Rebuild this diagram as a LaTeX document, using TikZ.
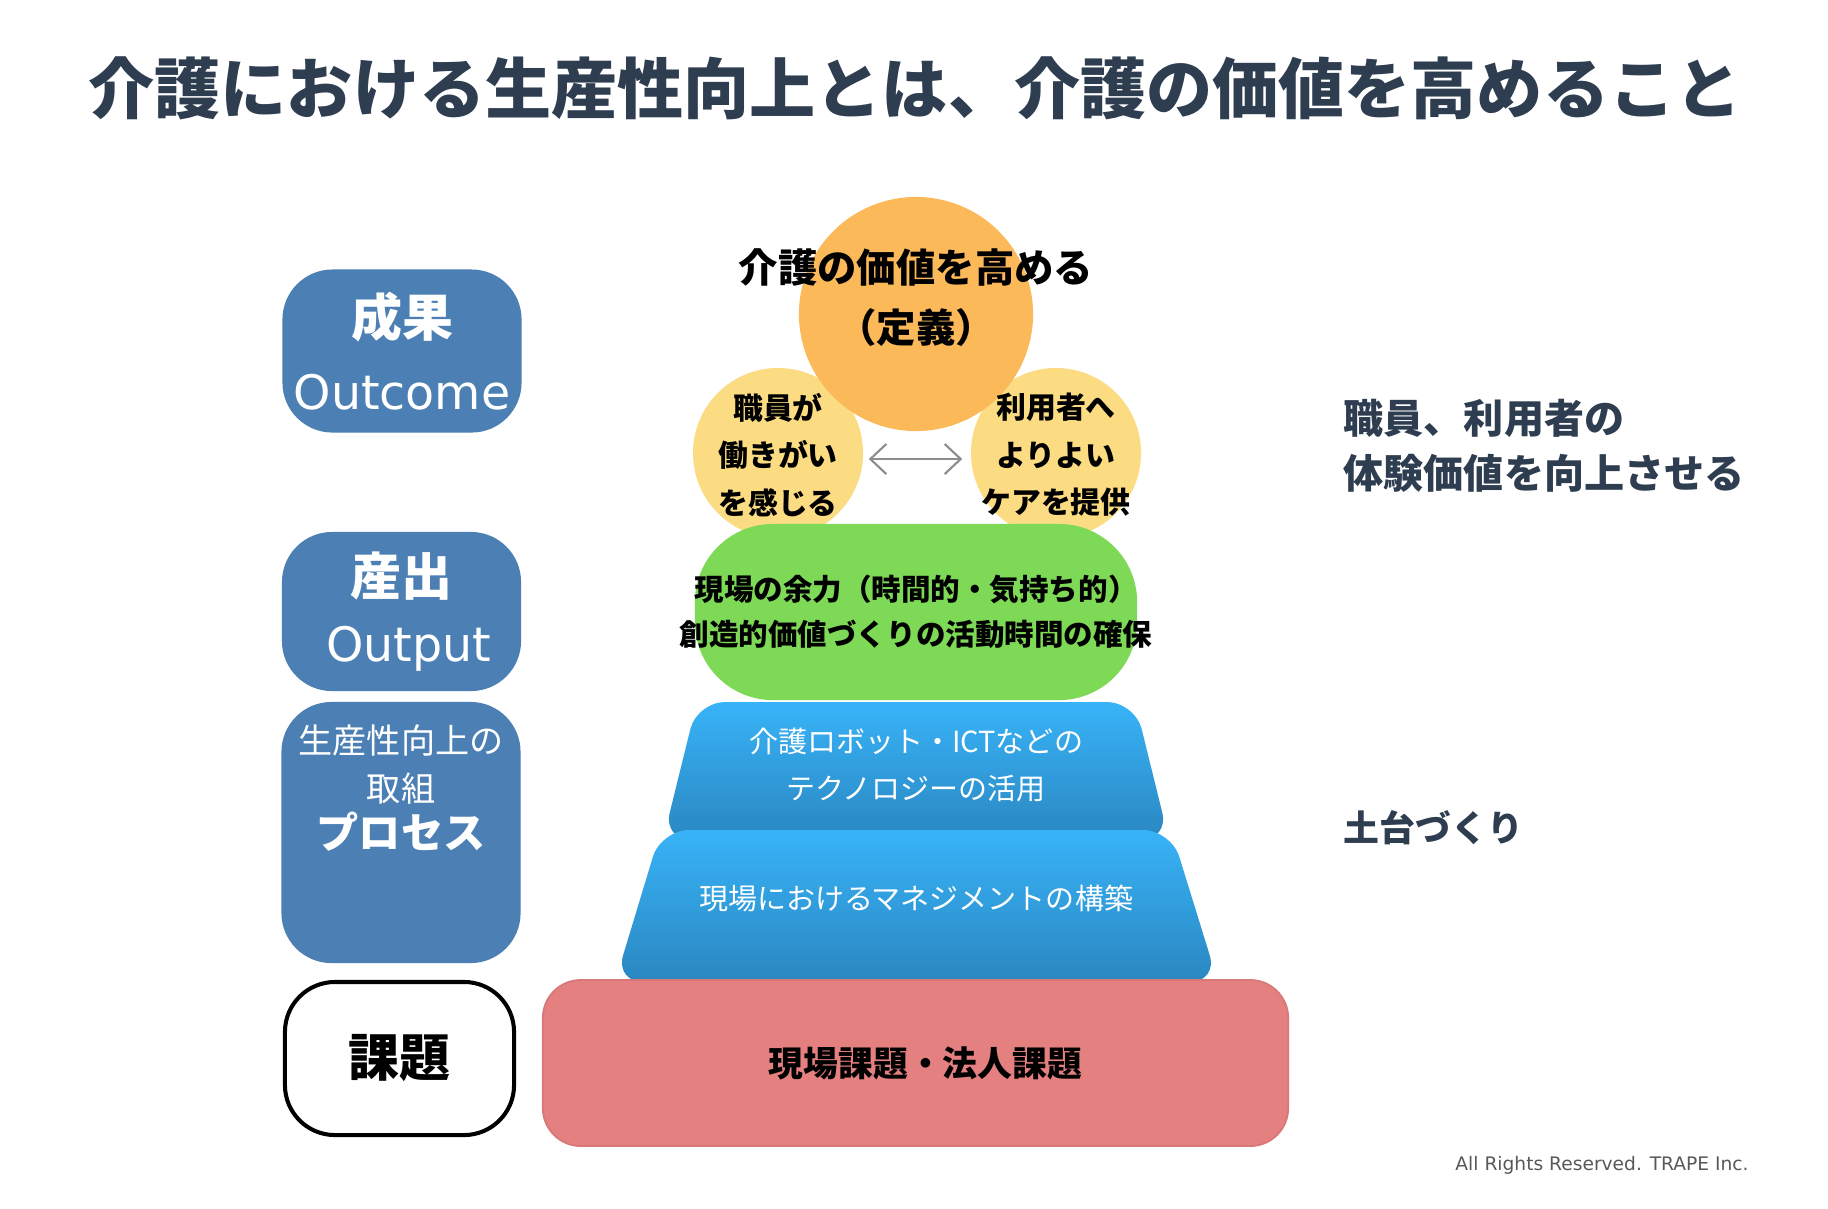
\documentclass[tikz,border=0pt]{standalone}
\usepackage{fontspec}
\setmainfont{Noto Sans CJK JP}
\newfontfamily\latinsans{DejaVu Sans}
\usepackage{tikz}
\usetikzlibrary{arrows.meta,positioning,shapes.geometric}
\definecolor{trapenavy}{HTML}{2E3D50}
\definecolor{trapesteel}{HTML}{4C7FB3}
\definecolor{trapeorange}{HTML}{FBB95A}
\definecolor{trapeyellow}{HTML}{FCDC82}
\definecolor{trapegreen}{HTML}{7DD956}
\definecolor{trapesky}{HTML}{38B3F8}
\definecolor{trapedeep}{HTML}{2A87C0}
\definecolor{trapered}{HTML}{E48080}
\definecolor{trapeedge}{HTML}{D87878}

\begin{document}
\begin{tikzpicture}[x=0.01cm,y=-0.01cm,
  lbox/.style={rectangle,rounded corners=0.5cm,fill=trapesteel,text=white,align=center,
               inner sep=0pt,minimum width=2.39cm},
  blob/.style={circle,inner sep=0pt},
  ctxt/.style={align=center,inner sep=0pt,font=\bfseries\fontsize{8.5}{13.5}\selectfont},
  wtxt/.style={align=center,inner sep=0pt,text=white,font=\fontsize{8.25}{13.1}\selectfont},
  note/.style={anchor=west,align=left,inner sep=0pt,text=trapenavy,
               font=\bfseries\fontsize{11.4}{15.6}\selectfont},
  trap/.style={top color=trapesky,bottom color=trapedeep,rounded corners=0.28cm},
  dbl/.style={{Straight Barb[length=1.6mm,width=3mm]}-{Straight Barb[length=1.6mm,width=3mm]},
              draw=black!45,line width=0.6pt}
]
\fill[white] (0,0) rectangle (1828,1208);

% Titel
\node[inner sep=0pt,text=trapenavy,font=\bfseries\fontsize{18.8}{22}\selectfont] (ttl) at (915,88)
  {介護における生産性向上とは、介護の価値を高めること};

% linke Spalte
\node[lbox,minimum height=1.63cm,font=\fontsize{14}{20.8}\selectfont] (outc) at (402,351)
  {{\bfseries\fontsize{14.5}{20.8}\selectfont 成果}\\{\latinsans\fontsize{13.5}{20.8}\selectfont Outcome}};
\node[lbox,minimum height=1.59cm,font=\fontsize{14}{19}\selectfont] (outp) at (401.5,611.5)
  {{\bfseries\fontsize{14.5}{19}\selectfont 産出}\\{\latinsans\fontsize{13.5}{19}\selectfont\hspace*{0.14cm}Output}};
\node[lbox,minimum height=2.61cm] (proc) at (401,832.5) {};
\node[inner sep=0pt,align=center,text=white,font=\fontsize{9.7}{13.9}\selectfont] (proct) at (401,764.5)
  {生産性向上の\\取組};
\node[inner sep=0pt,text=white,font=\bfseries\fontsize{12}{14}\selectfont] (procb) at (401,832) {プロセス};
\node[rectangle,rounded corners=0.5cm,draw=black,line width=1.15pt,fill=white,inner sep=0pt,
      minimum width=2.29cm,minimum height=1.53cm,font=\bfseries\fontsize{14.5}{16}\selectfont] (task)
  at (399.5,1058.5) {課題};

% Mitte
\node[blob,fill=trapeyellow,minimum size=1.70cm] (yl) at (778,453) {};
\node[blob,fill=trapeyellow,minimum size=1.70cm] (yr) at (1056,453) {};
\node[blob,fill=trapeorange,minimum size=2.34cm] (val) at (916,314) {};
\node[rectangle,rounded corners=0.78cm,fill=trapegreen,minimum width=4.42cm,minimum height=1.76cm] (marg)
  at (916,612) {};
\shade[trap] (663,840) -- (697,702) -- (1135,702) -- (1169,840) -- cycle;
\shade[trap] (615,982) -- (661,830) -- (1171,830) -- (1218,982) -- cycle;
\node[rectangle,rounded corners=0.38cm,fill=trapered,draw=trapeedge,line width=0.5pt,
      minimum width=7.45cm,minimum height=1.66cm,font=\bfseries\fontsize{9.9}{12}\selectfont] (issue)
  at (915.5,1063) {\hspace*{0.2cm}現場課題・法人課題};

\node[ctxt,font=\bfseries\fontsize{11.2}{17.1}\selectfont] (valt) at (916,298) {介護の価値を高める\\（定義）};
\node[ctxt] (ylt) at (778,455) {職員が\\働きがい\\を感じる};
\node[ctxt] (yrt) at (1056,455) {利用者へ\\よりよい\\ケアを提供};
\draw[dbl,shorten <=0.05cm,shorten >=0.08cm] ([yshift=-0.06cm]yl.east) -- ([yshift=-0.06cm]yr.west);
\node[ctxt,font=\bfseries\fontsize{8.4}{12.8}\selectfont] (margt) at (916,612)
  {現場の余力（時間的・気持ち的）\\創造的価値づくりの活動時間の確保};
\node[wtxt] (ictt) at (916,765) {介護ロボット・ICTなどの\\テクノロジーの活用};
\node[wtxt] (mgmtt) at (916,898) {現場におけるマネジメントの構築};

% rechte Spalte
\node[note] (gain) at (1343,446) {職員、利用者の\\体験価値を向上させる};
\node[note,font=\bfseries\fontsize{10.2}{12}\selectfont] (base) at (1343,828) {土台づくり};

\node[inner sep=0pt,text=black!65,font=\latinsans\fontsize{5.3}{6}\selectfont] (copy) at (1602,1165)
  {All Rights Reserved. TRAPE Inc.};
\end{tikzpicture}
\end{document}
